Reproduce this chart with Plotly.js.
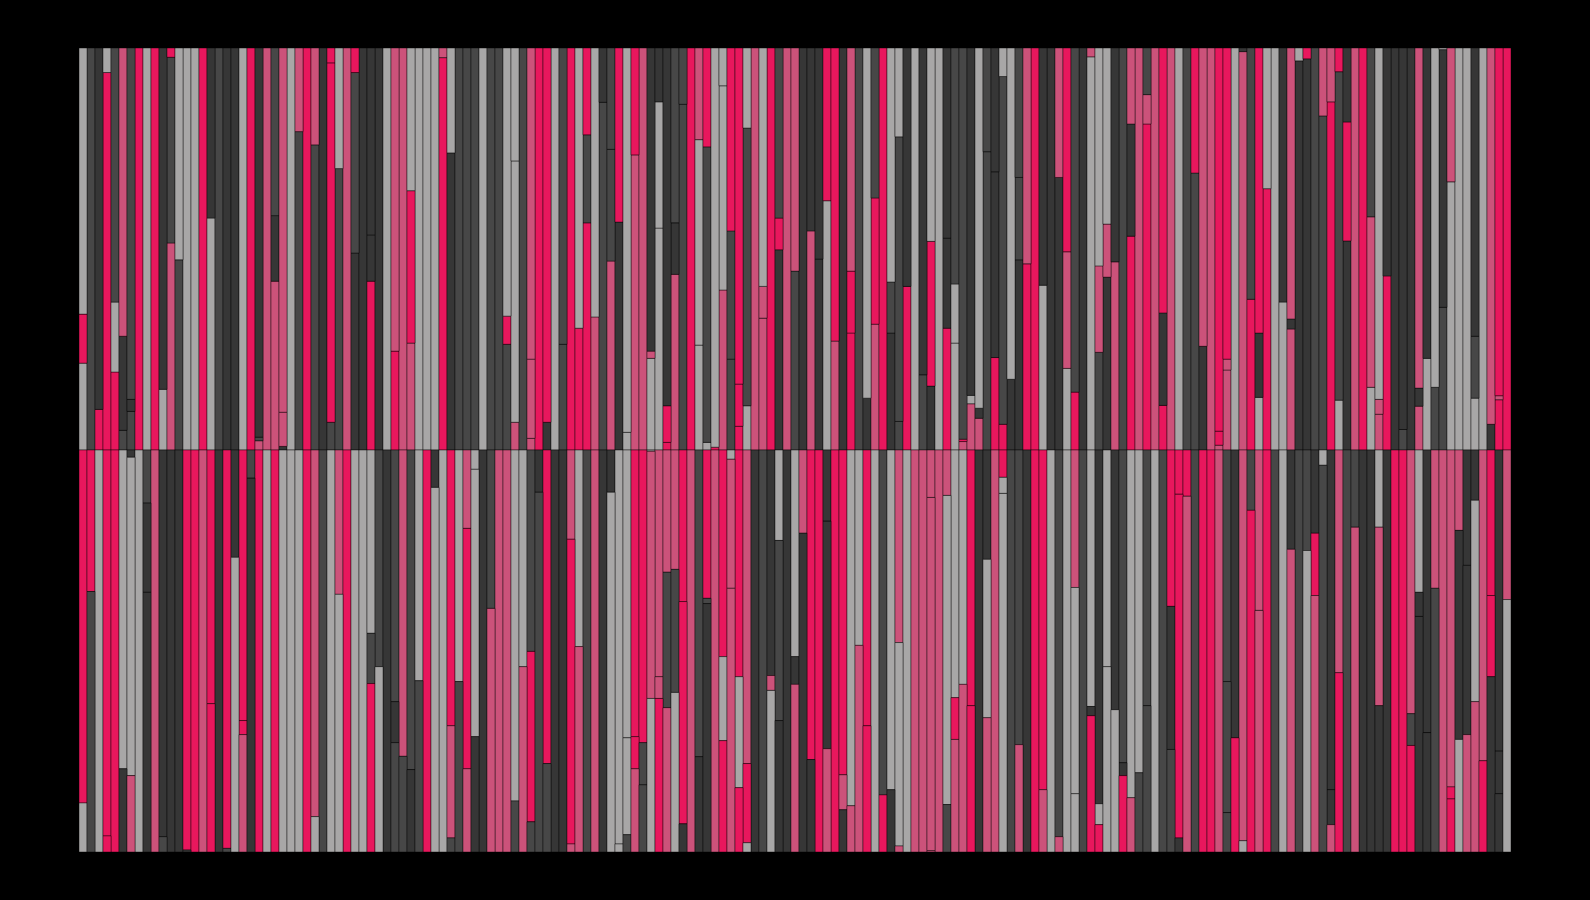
<!DOCTYPE html>
<html>
<head>
<meta charset="utf-8">
<script src="https://cdn.plot.ly/plotly-3.0.1.min.js"></script>
<style>html,body{margin:0;padding:0;background:#000;overflow:hidden}</style>
</head>
<body>
<div id="chart" style="width:1590px;height:900px"></div>
<script>
// Colour codes: G grey, R rose, P pink, D dark, K darker
const palette = {G:'#A8A7A7', R:'#CC527A', P:'#E8175D', D:'#474747', K:'#363636'};

// Upper half: colour of each stacked layer, from the baseline outward
const upInnerColor = "GDPPPDDPGP GRDGGPGDKK GPRRRKGDPD KDDRKKPKGP RRGGGPKDDD GDDDRDRPKG DPPPRDRKGR RGGPRDPGGP RDPGRRPKRD KRKGRKPDKR PKDPGDKGPG RRRDPPKKPP GKKGPKGDKR DPRPRPRGDD KRRRGRPGPG GRKKDDPGKR PGRPKDKRGD DGGGGGKPP";
const upMidColor   = "PDKGGKKPGP KDGGGPKDKK GPDRKRGRPR KPGRDKKKGR RPGGGRGDDD GDDPGDRPPG DPGDGKDPGP RRGPKDPGDG GDPDRRPPRR KKKPPKPDGP PDDKGKPGKG PGKDKDGDRP KKRRDKRRRK DKRRRKRGDP RRPRGKDKGG KKGPDRRDPR PRRKKKKKKG KRGGDGRRP";
const upOuterColor = "GDKGDRDPGP KPGGGPKDKK GPKRDRGRPR KPGRPKKKGR RGGGGRGDDD GDDGGDRPPG DPGPGKDPGP RKKKDDPRPG GPPGRGPDRR KKKPPKRDGD PGGKGKGGKD DKGDKGGDRP KKRPDKRGGK DRRDRPRGDP RRPPGKDPGG KRGPDRRPKR PDGKKKKRKG GRGGKGRPP";

// Upper half: height (percent of the half) where the inner and the middle layers end
const upInnerTop = [
21.6,100,10.1,93.9,19.4,4.9,9.6,100,100,100,
15.1,51.5,47.3,100,100,100,57.7,100,100,100,
100,100,2.3,100,42.0,0.9,100,79.2,100,75.9,
100,6.9,70.0,100,49.0,100,42.0,100,100,24.6,
100,26.6,100,100,100,97.6,73.9,100,100,100,
100,100,100,26.3,6.9,100,2.9,100,6.9,100,
26.3,100,30.3,56.5,33.1,86.5,47.0,56.7,4.4,73.4,
100,22.8,55.2,1.9,43.7,86.0,100,26.1,1.9,0.7,
39.8,22.6,5.9,11.0,100,32.8,100,49.8,100,44.5,
100,54.5,47.5,62.0,27.1,100,29.1,100,12.9,31.3,
100,29.1,7.1,40.7,100,18.7,15.9,100,30.3,26.6,
2.1,11.5,7.9,74.2,23.0,6.4,17.6,47.3,46.3,100,
41.0,100,67.8,20.3,14.4,100,97.8,24.3,43.0,46.8,
100,53.2,100,81.1,100,11.1,100,100,100,68.9,
25.8,100,1.2,19.9,100,99.1,37.5,13.1,65.0,100,
36.8,30.1,96.8,97.3,100,83.1,86.6,12.4,52.0,100,
100,15.6,8.9,43.3,100,5.1,100,10.9,22.8,15.6,
35.5,66.7,100,100,12.9,100,6.4,12.5,100];
const upMidTop = [
33.8,100,10.1,93.9,36.8,28.3,12.6,100,100,100,
15.1,97.7,47.3,100,100,100,57.7,100,100,100,
100,100,3.2,100,58.3,9.4,100,79.2,100,75.9,
100,96.3,70.0,100,93.9,100,53.5,100,100,24.6,
100,64.5,100,100,100,97.6,73.9,100,100,100,
100,100,100,33.3,71.9,100,22.6,100,6.9,100,
26.3,100,30.3,78.4,33.1,86.5,74.8,56.7,4.4,73.4,
100,24.6,86.6,11.0,56.5,86.0,100,77.2,75.4,0.7,
90.6,54.5,16.4,80.1,100,40.7,100,57.7,100,44.5,
100,54.5,47.5,62.0,27.1,100,44.5,100,12.9,62.7,
100,41.8,77.9,40.7,100,18.7,51.9,100,52.7,41.3,
2.7,13.6,10.4,74.2,69.2,92.9,17.6,67.8,46.3,100,
41.0,100,67.8,49.3,14.4,100,97.8,45.8,56.2,46.8,
100,81.1,100,88.4,100,34.1,100,100,100,68.9,
25.8,100,4.7,22.6,100,99.1,37.5,29.1,65.0,100,
36.8,32.6,96.8,97.3,100,83.1,86.6,94.1,81.6,100,
100,58.0,12.6,43.3,100,5.1,100,15.4,22.8,15.6,
99.6,66.7,100,100,28.3,100,6.4,13.5,100];

// Lower half: colour of each stacked layer, from the baseline outward
const downInnerColor = "PPGPPGKGDR KKKPPRPKPK PDPGPGGGPR DGRPGGGDKD RDGPKGPGRG KDRRGGDKPK KRGDRKKGGP PGRRRPRDPR PGPRKDKGKG RPPKPPGGPG DGRGRRRRRG GPKKRPDDKP PGDGRDGKGK DGGDGDPPPD PPRDKRDRPD GKDDKGKRDD KKGKPPRGKR RRRKKRPKR";
const downMidColor   = "GDGPPKGGKR DKKKPRPKDG PKPGPGGGPG DGGPGGDGKK DKDPGGRDPG KRRRDRPDDK KPRDRKGGGP DRRDDPRKDR GRGPKDRDKK KKPKPRRRPG PKGGRRRRGP RPKGRGDRKP RGRGGDKGGG KRDDGDKPRD PPRDPGPRPD GRDGPDKPDR KKRKPPDKKD RPKKGPPKG";
const downOuterColor = "GDGPPKRGKR DKKKPRPKDG RKPGPGGGPG DGGPGGPGKD DKDPGGDDRK KRRRDRDDDK KRRDRKGGDR DGPRGKRKKR PRPGKDGKKR KKPRPKRRPG PKRGRRRRDR RPKRRGDRKP RGRGGDPPGG PRDDGDDKRD PPRDPGPRPD GRDGRDRPDR KKKKPPPKKD RPGRRPKKG";

// Lower half: depth (percent of the half) where the inner and the middle layers end
const downInnerEnd = [
87.8,35.2,100,96.0,100,79.3,1.8,100,13.2,100,
96.2,100,100,99.5,100,100,63.1,100,99.1,26.7,
67.3,7.0,100,100,100,100,100,100,100,91.2,
100,100,35.9,100,100,100,45.6,53.9,100,62.6,
76.2,79.5,57.4,100,9.3,100,68.6,57.6,19.5,4.8,
100,39.4,100,100,87.3,53.9,50.1,10.5,78.0,100,
100,22.2,48.9,100,100,100,10.5,98.0,71.6,71.3,
72.8,0.3,56.4,30.4,29.7,37.7,100,76.3,36.9,100,
51.4,2.3,56.4,78.0,100,100,56.1,22.5,100,51.4,
20.7,77.0,100,17.7,100,80.8,88.5,48.6,68.6,100,
85.8,84.5,47.9,100,100,100,11.8,100,11.3,61.6,
58.3,63.6,100,27.2,100,6.8,100,73.3,100,100,
84.5,100,96.2,100,34.2,100,63.8,88.0,53.9,64.6,
77.8,86.5,80.3,63.6,100,100,38.9,11.0,11.5,100,
100,100,100,57.6,71.6,97.2,15.0,39.9,100,100,
100,24.7,100,25.0,20.7,3.8,84.5,55.4,100,19.2,
100,100,19.2,100,100,100,65.6,35.4,70.3,34.4,
100,83.8,20.0,28.7,12.5,77.3,36.2,74.9,37.2];
const downMidEnd = [
87.8,35.2,100,96.0,100,79.3,81.0,100,35.4,100,
96.2,100,100,99.5,100,100,63.1,100,99.1,26.7,
70.8,7.0,100,100,100,100,100,100,100,91.2,
100,100,35.9,100,100,100,58.1,53.9,100,72.8,
76.2,79.5,57.4,100,9.3,100,96.5,57.6,79.3,71.3,
100,39.4,100,100,87.3,53.9,92.5,10.5,78.0,100,
100,98.0,48.9,100,100,100,10.5,98.0,95.7,79.3,
83.3,61.8,61.8,64.1,60.3,93.0,100,76.3,38.2,100,
72.3,34.4,84.0,97.7,100,100,59.8,67.3,100,58.3,
20.7,77.0,100,74.3,100,89.5,88.5,48.6,68.6,100,
85.8,84.5,98.5,100,100,100,99.7,100,88.2,72.0,
58.3,63.6,100,66.6,100,10.8,100,73.3,100,100,
84.5,100,96.2,100,85.5,100,66.1,93.2,53.9,64.6,
81.0,86.5,80.3,63.6,100,100,74.5,96.5,11.5,100,
100,100,100,90.2,71.6,97.2,15.0,39.9,100,100,
100,24.7,100,25.0,36.2,3.8,93.2,55.4,100,19.2,
100,100,63.6,100,100,100,73.5,41.4,70.3,34.4,
100,86.8,72.0,70.8,62.6,77.3,56.4,85.5,37.2];

const colours = s => s.replace(/ /g,'').split('').map(c => palette[c]);
const columns = upInnerTop.map((_, i) => i);
const edge = {color:'rgba(0,0,0,0.42)', width:1};

function layer(heights, codes, sign){
  return {
    type:'bar', x:columns,
    y:heights.map(h => h > 0 ? sign*h : null),
    marker:{color:colours(codes), line:edge},
    hoverinfo:'skip', showlegend:false
  };
}
const diff = (a, b) => a.map((v, i) => +(v - b[i]).toFixed(2));
const rest = a => a.map(v => +(100 - v).toFixed(2));

const traces = [
  layer(upInnerTop, upInnerColor, 1),
  layer(diff(upMidTop, upInnerTop), upMidColor, 1),
  layer(rest(upMidTop), upOuterColor, 1),
  layer(downInnerEnd, downInnerColor, -1),
  layer(diff(downMidEnd, downInnerEnd), downMidColor, -1),
  layer(rest(downMidEnd), downOuterColor, -1)
];

const hidden = {visible:false, showgrid:false, zeroline:false, fixedrange:true};
const layout = {
  width:1590, height:900,
  paper_bgcolor:'#000', plot_bgcolor:'#000',
  barmode:'relative', bargap:0,
  margin:{l:79, r:79, t:48, b:48, pad:0},
  showlegend:false,
  xaxis:Object.assign({range:[-0.5, columns.length-0.5]}, hidden),
  yaxis:Object.assign({range:[-100, 100]}, hidden)
};
Plotly.newPlot('chart', traces, layout, {displayModeBar:false, staticPlot:true});
</script>
</body>
</html>
